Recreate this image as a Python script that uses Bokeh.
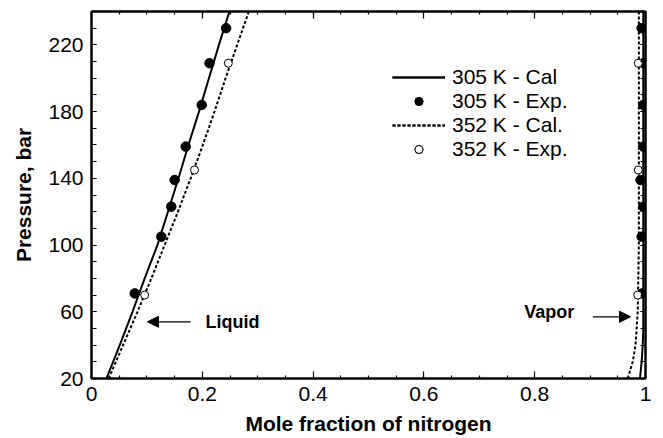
from bokeh.plotting import figure
from bokeh.models import (LinearAxis, Range1d, Legend, LegendItem, Arrow, NormalHead,
                          Label, SingleIntervalTicker, FixedTicker)
from bokeh.embed import file_html
from bokeh.resources import INLINE

# Experimental pressures (bar) and nitrogen mole fractions
p_305_exp = [71, 105, 123, 139, 159, 184, 209, 230]
x_305_liq_exp = [0.078, 0.126, 0.144, 0.150, 0.170, 0.199, 0.213, 0.243]
y_305_vap_exp = [0.994, 0.993, 0.996, 0.991, 0.996, 0.996, 0.996, 0.993]

p_352_exp = [70, 145, 209]
x_352_liq_exp = [0.096, 0.186, 0.247]
y_352_vap_exp = [0.986, 0.987, 0.987]

# Calculated phase envelopes
p_liq_cal = [20, 40, 60, 80, 100, 120, 140, 160, 180, 200, 220, 240]
x_305_liq_cal = [0.027, 0.051, 0.074, 0.096, 0.119, 0.138, 0.157, 0.175, 0.194, 0.212, 0.230, 0.249]
x_352_liq_cal = [0.031, 0.057, 0.083, 0.108, 0.132, 0.156, 0.179, 0.201, 0.222, 0.242, 0.263, 0.284]

p_vap_cal = [20, 30, 40, 50, 60, 80, 100, 140, 180, 240]
y_305_vap_cal = [0.990, 0.993, 0.995, 0.996, 0.996, 0.996, 0.996, 0.996, 0.996, 0.996]
y_352_vap_cal = [0.968, 0.977, 0.982, 0.984, 0.986, 0.987, 0.988, 0.988, 0.988, 0.988]

FONT = "Liberation Sans"

p = figure(width=663, height=438, output_backend="svg", toolbar_location=None,
           x_range=Range1d(0, 1), y_range=Range1d(20, 240),
           min_border_left=91, min_border_right=18, min_border_top=11, min_border_bottom=60,
           x_axis_location=None, y_axis_location=None)
p.grid.visible = False
p.outline_line_color = "black"
p.outline_line_width = 2
p.background_fill_color = "white"
p.border_fill_color = "white"

x_ticker = SingleIntervalTicker(interval=0.2, num_minor_ticks=4)
y_ticker = FixedTicker(ticks=[20, 60, 100, 140, 180, 220],
                       minor_ticks=list(range(20, 241, 10)))


def style_axis(ax, show_labels):
    ax.axis_line_color = "black"
    ax.axis_line_width = 2
    ax.major_tick_line_color = "black"
    ax.minor_tick_line_color = "black"
    ax.major_tick_line_width = 1.2
    ax.minor_tick_line_width = 1.2
    ax.major_tick_out = 0
    ax.minor_tick_out = 0
    ax.major_label_text_font = FONT
    ax.major_label_text_font_size = "21px"
    ax.major_label_text_color = "black"
    ax.axis_label_text_font = FONT
    ax.axis_label_text_font_size = "21px"
    ax.axis_label_text_font_style = "bold"
    ax.axis_label_text_color = "black"
    if not show_labels:
        ax.major_label_text_font_size = "0px"
        ax.major_label_text_alpha = 0


xb = LinearAxis(ticker=x_ticker, axis_label="Mole fraction of nitrogen")
style_axis(xb, True)
xb.major_tick_in = 7
xb.minor_tick_in = 3
xb.major_label_standoff = 8
xb.axis_label_standoff = 8
xb.major_label_overrides = {0: "0", 1: "1"}
p.add_layout(xb, "below")

xt = LinearAxis(ticker=x_ticker)
style_axis(xt, False)
xt.major_tick_in = 7
xt.minor_tick_in = 3
p.add_layout(xt, "above")

yl = LinearAxis(ticker=y_ticker, axis_label="Pressure, bar")
style_axis(yl, True)
yl.major_tick_in = 5
yl.minor_tick_in = 5
yl.major_label_standoff = 8
yl.axis_label_standoff = 10
p.add_layout(yl, "left")

yr = LinearAxis(ticker=y_ticker)
style_axis(yr, False)
yr.major_tick_in = 5
yr.minor_tick_in = 5
p.add_layout(yr, "right")

# Calculated curves
r305_liq = p.line(x_305_liq_cal, p_liq_cal, line_color="black", line_width=2)
r305_vap = p.line(y_305_vap_cal, p_vap_cal, line_color="black", line_width=2)
r352_liq = p.line(x_352_liq_cal, p_liq_cal, line_color="black", line_width=2, line_dash="3 2")
r352_vap = p.line(y_352_vap_cal, p_vap_cal, line_color="black", line_width=2, line_dash="3 2")

# Experimental points
e305_liq = p.scatter(x_305_liq_exp, p_305_exp, size=9.5, fill_color="black", line_color="black")
e305_vap = p.scatter(y_305_vap_exp, p_305_exp, size=9.5, fill_color="black", line_color="black")
e352_liq = p.scatter(x_352_liq_exp, p_352_exp, size=8, fill_color="white", line_color="black")
e352_vap = p.scatter(y_352_vap_exp, p_352_exp, size=8, fill_color="white", line_color="black")

legend = Legend(items=[
    LegendItem(label="305 K - Cal", renderers=[r305_liq, r305_vap]),
    LegendItem(label="305 K - Exp.", renderers=[e305_liq, e305_vap]),
    LegendItem(label="352 K - Cal.", renderers=[r352_liq, r352_vap]),
    LegendItem(label="352 K - Exp.", renderers=[e352_liq, e352_vap]),
], location=(301, 217))
legend.border_line_alpha = 0
legend.background_fill_alpha = 0
legend.padding = 0
legend.margin = 0
legend.spacing = 0
legend.glyph_width = 53
legend.glyph_height = 20
legend.label_height = 20
legend.label_standoff = 7
legend.label_text_font = FONT
legend.label_text_font_size = "21px"
legend.label_text_color = "black"
p.add_layout(legend, "center")

# Phase annotations
p.add_layout(Arrow(end=NormalHead(size=11, fill_color="black", line_color="black"),
                   x_start=0.179, y_start=54, x_end=0.101, y_end=54,
                   line_color="black", line_width=1.2))
p.add_layout(Label(x=0.206, y=54, text="Liquid", text_font=FONT, text_font_size="18px",
                   text_font_style="bold", text_baseline="middle", text_color="black"))
p.add_layout(Arrow(end=NormalHead(size=11, fill_color="black", line_color="black"),
                   x_start=0.905, y_start=57, x_end=0.973, y_end=57,
                   line_color="black", line_width=1.2))
p.add_layout(Label(x=0.781, y=60, text="Vapor", text_font=FONT, text_font_size="18px",
                   text_font_style="bold", text_baseline="middle", text_color="black"))

open("out.html", "w").write(file_html(p, INLINE))
